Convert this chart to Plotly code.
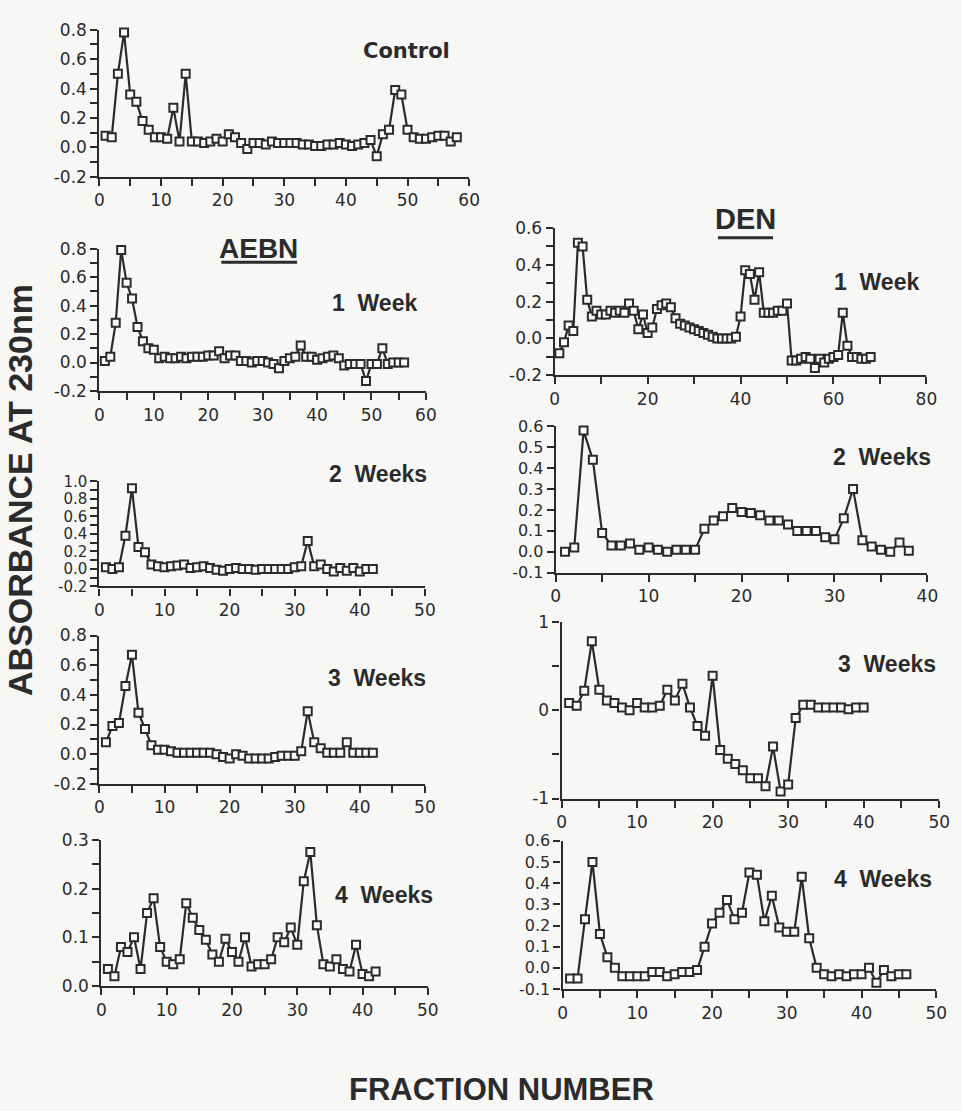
import plotly.graph_objects as go

W, H = 962, 1111
INK = "#2b2b2b"
BG = "#f7f7f5"

# ---------------- data (fraction number -> absorbance) ----------------
control = [0.08, 0.07, 0.50, 0.78, 0.36, 0.31, 0.18, 0.12, 0.07, 0.07,
           0.06, 0.27, 0.04, 0.50, 0.04, 0.04, 0.03, 0.04, 0.06, 0.04,
           0.09, 0.07, 0.03, -0.01, 0.03, 0.03, 0.02, 0.04, 0.03, 0.03,
           0.03, 0.03, 0.02, 0.02, 0.01, 0.01, 0.02, 0.02, 0.03, 0.02,
           0.01, 0.02, 0.03, 0.05, -0.06, 0.09, 0.12, 0.39, 0.36, 0.12,
           0.07, 0.06, 0.06, 0.07, 0.08, 0.08, 0.04, 0.07]
aebn_1w = [0.01, 0.04, 0.28, 0.79, 0.56, 0.45, 0.25, 0.15, 0.10, 0.09,
           0.03, 0.04, 0.03, 0.03, 0.04, 0.03, 0.04, 0.04, 0.04, 0.05,
           0.05, 0.08, 0.03, 0.05, 0.05, 0.01, 0.01, 0.00, 0.01, 0.01,
           0.00, -0.01, -0.04, 0.01, 0.03, 0.04, 0.12, 0.04, 0.04, 0.02,
           0.03, 0.04, 0.05, 0.03, -0.02, -0.01, -0.01, -0.01, -0.13, -0.01,
           -0.01, 0.10, -0.01, 0.00, 0.00, 0.00]
aebn_2w = [0.02, 0.00, 0.02, 0.38, 0.92, 0.25, 0.19, 0.05, 0.03, 0.02,
           0.03, 0.04, 0.05, 0.01, 0.02, 0.03, 0.01, -0.01, -0.02, 0.00,
           0.01, 0.00, 0.00, -0.01, 0.00, 0.00, 0.00, 0.00, 0.00, 0.02,
           0.03, 0.32, 0.03, 0.05, 0.00, -0.03, 0.01, -0.02, 0.01, -0.03,
           0.00, 0.00]
aebn_3w = [0.08, 0.19, 0.21, 0.46, 0.67, 0.28, 0.17, 0.06, 0.03, 0.03,
           0.02, 0.01, 0.01, 0.01, 0.01, 0.01, 0.01, 0.00, -0.02, -0.03,
           0.00, -0.01, -0.03, -0.03, -0.03, -0.03, -0.02, -0.01, -0.01, -0.01,
           0.02, 0.29, 0.08, 0.04, 0.01, 0.01, 0.01, 0.08, 0.01, 0.01,
           0.01, 0.01]
aebn_4w = [0.035, 0.02, 0.08, 0.07, 0.10, 0.035, 0.15, 0.18, 0.08, 0.05,
           0.045, 0.055, 0.17, 0.14, 0.115, 0.095, 0.065, 0.05, 0.097, 0.07,
           0.05, 0.10, 0.04, 0.045, 0.045, 0.055, 0.10, 0.09, 0.12, 0.085,
           0.215, 0.275, 0.125, 0.045, 0.04, 0.055, 0.035, 0.03, 0.085, 0.025,
           0.02, 0.03]
den_1w = [-0.08, -0.02, 0.07, 0.04, 0.52, 0.50, 0.21, 0.12, 0.15, 0.13,
          0.13, 0.15, 0.14, 0.15, 0.14, 0.19, 0.15, 0.05, 0.13, 0.03,
          0.06, 0.16, 0.18, 0.19, 0.17, 0.11, 0.08, 0.07, 0.06, 0.05,
          0.04, 0.03, 0.02, 0.01, 0.00, 0.00, 0.00, 0.00, 0.01, 0.12,
          0.37, 0.35, 0.21, 0.36, 0.14, 0.14, 0.14, 0.15, 0.15, 0.19,
          -0.12, -0.12, -0.11, -0.10, -0.11, -0.16, -0.11, -0.13, -0.11, -0.10,
          -0.09, 0.14, -0.04, -0.10, -0.10, -0.11, -0.11, -0.10]
den_2w = [0.00, 0.02, 0.58, 0.44, 0.09, 0.03, 0.03, 0.04, 0.01, 0.02,
          0.01, 0.00, 0.01, 0.01, 0.01, 0.11, 0.15, 0.17, 0.21, 0.19,
          0.185, 0.175, 0.15, 0.15, 0.13, 0.10, 0.10, 0.10, 0.07, 0.06,
          0.16, 0.30, 0.055, 0.025, 0.01, 0.00, 0.045, 0.005]
den_3w = [0.08, 0.05, 0.22, 0.78, 0.23, 0.11, 0.08, 0.03, 0.00, 0.08,
          0.03, 0.03, 0.05, 0.23, 0.11, 0.30, 0.03, -0.18, -0.29, 0.39,
          -0.45, -0.55, -0.61, -0.68, -0.77, -0.77, -0.86, -0.41, -0.92, -0.84,
          -0.09, 0.06, 0.06, 0.03, 0.03, 0.03, 0.03, 0.01, 0.03, 0.03]
den_4w = [-0.05, -0.05, 0.23, 0.50, 0.16, 0.05, 0.00, -0.04, -0.04, -0.04,
          -0.04, -0.02, -0.02, -0.04, -0.03, -0.02, -0.02, -0.01, 0.10, 0.21,
          0.26, 0.32, 0.23, 0.26, 0.45, 0.44, 0.22, 0.34, 0.19, 0.17,
          0.17, 0.43, 0.14, 0.00, -0.03, -0.04, -0.03, -0.04, -0.03, -0.03,
          0.00, -0.07, -0.01, -0.04, -0.03, -0.03]

# labelled tick values per panel
y_ticks_a = [-0.2, 0.0, 0.2, 0.4, 0.6, 0.8]
y_ticks_b = [-0.2, 0.0, 0.2, 0.4, 0.6, 0.8, 1.0]
y_ticks_c = [0.0, 0.1, 0.2, 0.3]
y_ticks_d = [-0.2, 0.0, 0.2, 0.4, 0.6]
y_ticks_e = [-0.1, 0.0, 0.1, 0.2, 0.3, 0.4, 0.5, 0.6]
y_ticks_f = [-1, 0, 1]
x_ticks_60 = [0, 10, 20, 30, 40, 50, 60]
x_ticks_50 = [0, 10, 20, 30, 40, 50]
x_ticks_40 = [0, 10, 20, 30, 40]
x_ticks_80 = [0, 20, 40, 60, 80]

panel_labels = ["Control", "1  Week", "2  Weeks", "3  Weeks", "4  Weeks",
                "1  Week", "2  Weeks", "3  Weeks", "4  Weeks"]


def fx(px):
    return px / W


def fy(py):
    return 1 - py / H


def with_minor(major, step, lo, hi):
    """tick positions: labelled majors plus unlabelled in-between ticks"""
    vals, txt = [], []
    k = 0
    while True:
        v = round(lo + k * step, 6)
        if v > hi + 1e-9:
            break
        vals.append(v)
        k += 1
    return vals


panels = [
    # series, x0px, x1px, xrange, ytop_px, ybot_px, yrange, yticks, yfmt, yminor, xticks, xminor, yfont
    (control, 96, 472, [0, 60], 20, 170, [-0.2, 0.8], y_ticks_a, "{:.1f}", 0.1, x_ticks_60, 5, 17),
    (aebn_1w, 96, 428, [0, 60], 243, 388, [-0.2, 0.8], y_ticks_a, "{:.1f}", 0.1, x_ticks_60, 5, 17),
    (aebn_2w, 96, 427, [0, 50], 480, 587, [-0.2, 1.0], y_ticks_b, "{:.1f}", 0.1, x_ticks_50, 5, 15),
    (aebn_3w, 96, 427, [0, 50], 637, 788, [-0.2, 0.8], y_ticks_a, "{:.1f}", 0.1, x_ticks_50, 5, 17),
    (aebn_4w, 98, 430, [0, 50], 845, 994, [0.0, 0.3], y_ticks_c, "{:.1f}", 0.05, x_ticks_50, 5, 17),
    (den_1w, 559, 937, [0, 80], 222, 372, [-0.2, 0.6], y_ticks_d, "{:.1f}", 0.1, x_ticks_80, 10, 17),
    (den_2w, 560, 938, [0, 40], 424, 573, [-0.1, 0.6], y_ticks_e, "{:.1f}", None, x_ticks_40, 5, 16),
    (den_3w, 566, 950, [0, 50], 623, 803, [-1, 1], y_ticks_f, "{:d}", 0.5, x_ticks_50, 5, 17),
    (den_4w, 567, 947, [0, 50], 846, 997, [-0.1, 0.6], y_ticks_e, "{:.1f}", None, x_ticks_50, 5, 16),
]

fig = go.Figure()
layout_axes = {}


def tick_arrays(major, fmt, step, lo, hi):
    if step is None:
        return major, [fmt.format(v) for v in major]
    vals = with_minor(major, step, lo, hi)
    majors = [round(m, 6) for m in major]
    txt = [fmt.format(type(major[0])(v)) if any(abs(v - m) < 1e-9 for m in majors) else ""
           for v in vals]
    return vals, txt


for i, (ser, x0, x1, xr, yt, yb, yr, yticks, yfmt, yminor, xticks, xminor, yfs) in enumerate(panels):
    n = i + 1
    xs = list(range(1, len(ser) + 1))
    fig.add_trace(go.Scatter(
        x=xs, y=ser, mode="lines+markers",
        xaxis=f"x{n}" if n > 1 else "x", yaxis=f"y{n}" if n > 1 else "y",
        line=dict(color=INK, width=2.2),
        marker=dict(symbol="square", size=8, color="#fbfbfa",
                    line=dict(color=INK, width=2)),
        cliponaxis=False, showlegend=False, hoverinfo="skip"))
    xk = "xaxis" if n == 1 else f"xaxis{n}"
    yk = "yaxis" if n == 1 else f"yaxis{n}"
    xv, xt = tick_arrays(xticks, "{:d}", xminor, xr[0], xr[1])
    yv, yt_txt = tick_arrays(yticks, yfmt, yminor, yr[0], yr[1])
    layout_axes[xk] = dict(
        domain=[fx(x0), fx(x1)], range=xr, anchor=f"y{n}" if n > 1 else "y",
        showline=True, linewidth=2.2, linecolor=INK, showgrid=False, zeroline=False,
        ticks="outside", ticklen=7, tickwidth=2, tickcolor=INK,
        tickmode="array", tickvals=xv, ticktext=xt,
        tickfont=dict(family="DejaVu Sans", size=17, color=INK), fixedrange=True)
    layout_axes[yk] = dict(
        domain=[fy(yb), fy(yt)], range=yr, anchor=f"x{n}" if n > 1 else "x",
        showline=True, linewidth=2.2, linecolor=INK, showgrid=False, zeroline=False,
        ticks="outside", ticklen=7, tickwidth=2, tickcolor=INK,
        tickmode="array", tickvals=yv, ticktext=yt_txt,
        tickfont=dict(family="DejaVu Sans", size=yfs, color=INK), fixedrange=True)

annotations = []


def add_text(text, cx, cy, size, family="Liberation Sans", angle=0):
    annotations.append(dict(
        text=f"<b>{text}</b>", x=fx(cx), y=fy(cy), xref="paper", yref="paper",
        xanchor="center", yanchor="middle", showarrow=False, textangle=angle,
        font=dict(family=family, size=size, color=INK)))


label_pos = [(408, 42), (376, 298), (379, 472), (378, 680), (385, 901),
             (886, 277), (892, 455), (897, 666), (893, 885)]
for lab, (cx, cy) in zip(panel_labels, label_pos):
    if lab == "Control":
        add_text(lab, cx, cy, 21, family="DejaVu Sans")
    else:
        add_text(lab, cx, cy, 23)

add_text("AEBN", 258, 243, 28)
add_text("DEN", 753, 213, 29)
add_text("ABSORBANCE AT 230nm", 15, 489, 34, angle=-90)
add_text("FRACTION NUMBER", 505, 1099, 31)

shapes = [
    dict(type="line", xref="paper", yref="paper", x0=fx(220), x1=fx(297),
         y0=fy(257), y1=fy(257), line=dict(color=INK, width=3)),
    dict(type="line", xref="paper", yref="paper", x0=fx(725), x1=fx(781),
         y0=fy(232), y1=fy(232), line=dict(color=INK, width=3)),
]

fig.update_layout(
    width=W, height=H, margin=dict(l=0, r=0, t=0, b=0),
    paper_bgcolor=BG, plot_bgcolor=BG,
    annotations=annotations, shapes=shapes, **layout_axes)

fig.write_html(
    "out.html", include_plotlyjs=True, config={"displayModeBar": False},
    post_script="document.body.style.margin='0';document.body.style.overflow='hidden';"
                "document.documentElement.style.overflow='hidden';")
